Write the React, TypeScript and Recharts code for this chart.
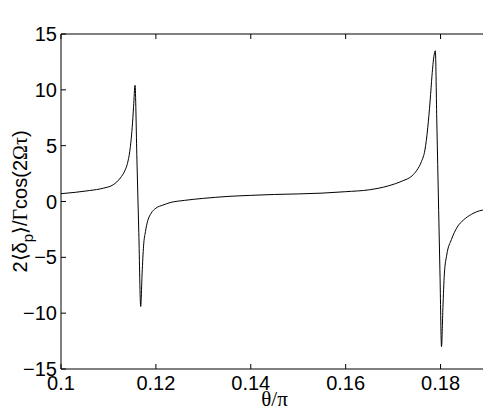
import React from 'react';
import { LineChart, Line, XAxis, YAxis } from 'recharts';

// θ/π sample positions (denser near the two resonances)
const thetaValues = [
  0.1, 0.103, 0.106, 0.109, 0.111, 0.1125, 0.1135, 0.114, 0.1145, 0.115, 0.1153, 0.1156,
  0.116, 0.1164, 0.1168, 0.1171, 0.1174, 0.1178, 0.1183, 0.119, 0.12, 0.1215, 0.123, 0.126,
  0.13, 0.135, 0.14, 0.145, 0.15, 0.155, 0.16, 0.165, 0.169, 0.172, 0.174, 0.175, 0.176,
  0.1767, 0.1773, 0.1778, 0.1782, 0.1786, 0.1789, 0.1792, 0.1796, 0.1799, 0.1802, 0.1805,
  0.1808, 0.1813, 0.1823, 0.1835, 0.1848, 0.1865, 0.1876, 0.19,
];

const shiftValues = [
  0.7, 0.82, 0.98, 1.2, 1.5, 2.1, 2.8, 3.4, 4.5, 6.6, 8.5, 10.4,
  3.8, -2.8, -9.4, -6.4, -4.0, -2.7, -1.7, -1.05, -0.6, -0.32, -0.1, 0.1,
  0.28, 0.45, 0.55, 0.63, 0.68, 0.75, 0.88, 1.05, 1.4, 1.85, 2.3, 2.8, 3.6,
  4.6, 6.6, 9.0, 11.3, 13.0, 13.5, 7.4, -0.8, -6.9, -13, -9.5,
  -6.5, -4.8, -3.4, -2.3, -1.67, -1.15, -0.92, -0.71,
];

const xTicks = [0.1, 0.12, 0.14, 0.16, 0.18];
const yTicks = [-15, -10, -5, 0, 5, 10, 15];

const data = thetaValues.map((t, i) => ({ theta: t, value: shiftValues[i] }));

const FONT = '"Liberation Sans", Arial, Helvetica, sans-serif';
const TICK_LEN = 5;

const fmt = (v: number) => (v < 0 ? '\u2212' + Math.abs(v) : String(v));

const BottomTick = ({ x, y, payload }: any) => (
  <g>
    <line x1={x} x2={x} y1={y} y2={y - TICK_LEN} stroke="#000" strokeWidth={1} />
    <text x={x} y={y + 21} textAnchor="middle" fontSize={20} fontFamily={FONT} fill="#000">
      {fmt(payload.value)}
    </text>
  </g>
);

const TopTick = ({ x, y }: any) => (
  <line x1={x} x2={x} y1={y} y2={y + TICK_LEN} stroke="#000" strokeWidth={1} />
);

const LeftTick = ({ x, y, payload }: any) => (
  <g>
    <line x1={x} x2={x + TICK_LEN} y1={y} y2={y} stroke="#000" strokeWidth={1} />
    <text x={x - 4} y={y + 7} textAnchor="end" fontSize={20} fontFamily={FONT} fill="#000">
      {fmt(payload.value)}
    </text>
  </g>
);

const RightTick = ({ x, y }: any) => (
  <line x1={x} x2={x - TICK_LEN} y1={y} y2={y} stroke="#000" strokeWidth={1} />
);

const YLabel = ({ viewBox }: any) => {
  const cy = viewBox.y + viewBox.height / 2;
  const lx = 27;
  return (
    <text
      x={lx}
      y={cy}
      transform={`rotate(-90, ${lx}, ${cy})`}
      textAnchor="middle"
      fontSize={20}
      fontFamily={FONT}
      fill="#000"
    >
      2⟨δ<tspan dy={6} fontSize={15}>p</tspan>
      <tspan dy={-6}>⟩/</tspan>
      <tspan fontFamily="'Liberation Serif', serif">Γ</tspan>cos(2
      <tspan fontFamily="'Liberation Serif', serif">Ωτ</tspan>)
    </text>
  );
};

const XLabel = ({ viewBox }: any) => {
  const cx = viewBox.x + viewBox.width / 2;
  return (
    <text x={cx} y={406} textAnchor="middle" fontSize={21} fontFamily="'Liberation Serif', serif" fill="#000">
      θ/π
    </text>
  );
};

export default function App() {
  return (
    <div style={{ margin: -8, width: 491, height: 414, background: '#fff' }}>
      <LineChart width={491} height={414} data={data} margin={{ top: 33, right: 2, bottom: 0, left: 0 }}>
        <XAxis
          dataKey="theta"
          type="number"
          domain={[0.1, 0.19]}
          ticks={xTicks}
          allowDataOverflow
          height={45}
          tickSize={0}
          tickMargin={0}
          tickLine={false}
          tick={<BottomTick />}
          axisLine={{ stroke: '#000' }}
          label={<XLabel />}
        />
        <XAxis
          xAxisId="top"
          orientation="top"
          dataKey="theta"
          type="number"
          domain={[0.1, 0.19]}
          ticks={xTicks}
          allowDataOverflow
          height={1}
          tickSize={0}
          tickMargin={0}
          tickLine={false}
          tick={<TopTick />}
          axisLine={{ stroke: '#000' }}
        />
        <YAxis
          type="number"
          domain={[-15, 15]}
          ticks={yTicks}
          allowDataOverflow
          width={61}
          tickSize={0}
          tickMargin={0}
          tickLine={false}
          tick={<LeftTick />}
          axisLine={{ stroke: '#000' }}
          label={<YLabel />}
        />
        <YAxis
          yAxisId="right"
          orientation="right"
          type="number"
          domain={[-15, 15]}
          ticks={yTicks}
          allowDataOverflow
          width={1}
          tickSize={0}
          tickMargin={0}
          tickLine={false}
          tick={<RightTick />}
          axisLine={{ stroke: '#000' }}
        />
        {/* invisible series so the top and right frame axes get drawn */}
        <Line
          xAxisId="top"
          yAxisId="right"
          dataKey="value"
          stroke="none"
          dot={false}
          activeDot={false}
          isAnimationActive={false}
        />
        <Line
          type="monotone"
          dataKey="value"
          stroke="#000"
          strokeWidth={1}
          dot={false}
          isAnimationActive={false}
        />
      </LineChart>
    </div>
  );
}
